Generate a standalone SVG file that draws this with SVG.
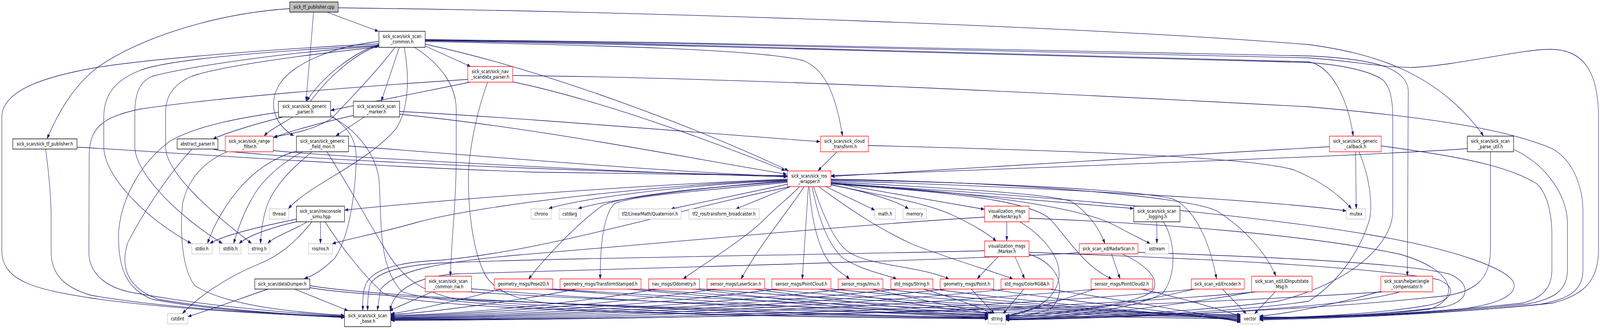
<svg xmlns="http://www.w3.org/2000/svg" width="5257" height="841" viewBox="0 0 5257 841" preserveAspectRatio="none">
<style>
svg{width:100vw;height:100vh}
.e{fill:none;stroke:#191970;stroke-width:1.3;marker-end:url(#a)}
.n rect{fill:#fff;stroke-width:1.4}
.blk rect{stroke:#000}
.red rect{stroke:#ff0000}
.gry rect{stroke:#bfbfbf}
.root rect{fill:#bfbfbf;stroke:#000}
text{font-family:"DejaVu Sans",sans-serif;font-size:13px;text-anchor:middle;fill:#000}
</style>
<defs>
<marker id="a" viewBox="0 0 11 8" refX="11" refY="4" markerWidth="11" markerHeight="8" markerUnits="userSpaceOnUse" orient="auto">
<path d="M0,0L11,4L0,8z" fill="#191970" stroke="#191970" stroke-width="0.8"/>
</marker>
</defs>
<rect width="5257" height="841" fill="#fff"/>
<g id="edges">
<path class="e" d="M1074,31 L1243,80"/>
<path class="e" d="M1030,31 C1024,100 1012,190 1006,258"/>
<path class="e" d="M952,22 C700,35 450,100 321,172 C240,220 190,290 155,354"/>
<path class="e" d="M1111,20 C2200,30 3600,70 4300,114 C4500,135 4720,180 4874,347"/>
<path class="e" d="M1245,112 C900,125 500,150 321,172 C150,195 6,230 6,300 L6,640 C6,720 120,740 300,762 C600,795 1000,806 1131,812"/>
<path class="e" d="M1245,116 C900,130 560,150 460,180 C380,205 341,240 341,300 L341,375 C341,450 480,560 628,622"/>
<path class="e" d="M1245,118 C950,132 620,170 500,195 C455,210 443,245 443,290 L443,375 C443,440 580,550 730,622"/>
<path class="e" d="M1245,120 C1000,140 720,170 630,195 C570,215 544,245 544,290 L544,375 C544,440 690,540 826,622"/>
<path class="e" d="M1245,114 C1160,135 1060,195 1008,258"/>
<path class="e" d="M1020,259 C1080,195 1170,135 1244,117"/>
<path class="e" d="M1245,106 C1100,118 960,160 915,220 C880,270 905,320 965,347"/>
<path class="e" d="M1312,121 L1253,258"/>
<path class="e" d="M1328,121 C1345,190 1345,280 1300,330 C1200,420 1020,470 948,533"/>
<path class="e" d="M1298,121 C1230,190 1130,270 1090,302 C1040,330 960,342 900,350"/>
<path class="e" d="M1362,121 C1450,165 1499,220 1499,280 L1499,400 C1499,520 1482,620 1480,705"/>
<path class="e" d="M1384,113 L1546,170"/>
<path class="e" d="M1397,113 C1800,180 2300,330 2590,436"/>
<path class="e" d="M1397,106 C1900,115 2500,125 2640,155 C2720,180 2750,260 2768,347"/>
<path class="e" d="M1397,103 C2500,115 3800,140 4300,158 C4380,170 4430,260 4446,347"/>
<path class="e" d="M1397,101 C2500,110 3900,130 4300,143 C4500,150 4620,170 4627,230 L4624,705"/>
<path class="e" d="M1397,102 C2500,112 3900,135 4300,148 C4450,156 4560,175 4651,172 C4800,165 5000,126 5093,126 C5200,126 5252,180 5252,300 L5252,640 C5252,720 5200,755 5100,775 C4800,800 4400,812 4139,815"/>
<path class="e" d="M1397,104 C2500,118 3900,150 4300,160 C4400,165 4500,180 4545,205 C4570,225 4576,260 4576,300 L4576,540 C4576,620 4450,720 4200,770 C3900,800 3500,812 3305,815"/>
<path class="e" d="M150,381 C160,440 168,500 168,560 L168,644 C168,700 210,735 300,755 C600,795 1000,805 1131,809"/>
<path class="e" d="M253,376 C600,392 1200,425 1750,440 L2586,449"/>
<path class="e" d="M930,299 C850,315 760,335 700,355"/>
<path class="e" d="M962,299 C930,315 890,330 868,347"/>
<path class="e" d="M915,287 C800,300 650,320 560,360 C470,410 400,500 390,590 C385,690 420,740 500,765 C700,795 1000,806 1131,811"/>
<path class="e" d="M1086,294 C1150,330 1175,360 1170,420 C1165,500 1150,600 1100,660 C1060,690 1030,705 1000,712"/>
<path class="e" d="M1086,298 C1150,320 1230,380 1245,456 C1255,560 1240,680 1320,745 C1500,800 2800,812 3247,814"/>
<path class="e" d="M1545,210 L1087,282"/>
<path class="e" d="M1537,203 C1200,220 700,250 459,279 C330,300 293,330 293,400 L292,644 C292,700 350,740 459,751 C700,785 1000,803 1131,808"/>
<path class="e" d="M1683,209 C2000,260 2400,380 2579,436"/>
<path class="e" d="M1684,193 C2500,200 3500,240 4300,273 C4700,300 4950,330 5100,380 C5170,410 5201,480 5201,540 L5201,690 C5201,745 5150,765 5060,778 C4700,805 4400,813 4139,818"/>
<path class="e" d="M1602,210 C1560,300 1539,400 1539,456 C1539,560 1560,660 1600,710 C1640,750 1700,765 1800,775 C2400,800 3000,810 3247,811"/>
<path class="e" d="M1161,295 C1050,315 950,335 899,352"/>
<path class="e" d="M1197,299 L1104,347"/>
<path class="e" d="M1313,292 C1800,330 2300,410 2584,445"/>
<path class="e" d="M1313,285 C1700,300 2300,340 2694,362"/>
<path class="e" d="M975,386 C930,395 860,420 800,470 C740,520 700,580 682,622"/>
<path class="e" d="M993,388 C920,420 860,460 826,510 C800,545 780,590 768,622"/>
<path class="e" d="M1025,388 C960,430 907,470 880,520 C865,550 858,590 856,622"/>
<path class="e" d="M1145,373 C1600,400 2200,440 2586,451"/>
<path class="e" d="M1074,388 C1150,480 1220,580 1260,630 C1320,710 1380,745 1500,765 C2000,800 2900,810 3247,813"/>
<path class="e" d="M746,388 C680,410 620,450 600,520 C590,600 600,690 640,730 C750,785 1000,800 1131,806"/>
<path class="e" d="M898,385 C1100,400 2000,440 2586,452"/>
<path class="e" d="M631,381 C560,440 480,530 420,620 C390,690 430,740 520,765 C750,795 1000,806 1131,810"/>
<path class="e" d="M700,381 C760,395 1500,430 2586,450"/>
<path class="e" d="M2750,388 L2688,436"/>
<path class="e" d="M2853,372 C3500,385 4100,400 4250,434 C4300,450 4380,480 4440,533"/>
<path class="e" d="M4454,388 L4456,533"/>
<path class="e" d="M4465,388 C4500,450 4510,520 4500,560 C4470,640 4400,720 4300,770 C4000,805 3500,812 3305,816"/>
<path class="e" d="M4538,373 C4750,395 4950,420 5050,470 C5090,500 5099,560 5099,600 L5099,690 C5099,740 5060,765 5000,775 C4700,800 4400,812 4139,816"/>
<path class="e" d="M4368,375 C3800,400 3200,430 2731,451"/>
<path class="e" d="M4973,382 C5080,420 5150,500 5150,570 L5150,690 C5150,745 5100,765 5020,777 C4700,802 4400,812 4139,814"/>
<path class="e" d="M4821,380 C4500,398 3500,425 2731,449"/>
<path class="e" d="M4897,388 L4897,640 C4897,710 4850,745 4750,756 C4300,795 3700,810 3305,817"/>
<path class="e" d="M2713,477 L2874,537"/>
<path class="e" d="M2728,472 C2850,490 2950,515 2985,534"/>
<path class="e" d="M2730,467 L3234,535"/>
<path class="e" d="M2728,472 C2900,500 3050,520 3130,550 C3200,575 3250,600 3273,616"/>
<path class="e" d="M2690,477 C2800,540 2900,590 3000,625 C3150,670 3270,695 3328,713"/>
<path class="e" d="M2673,477 C2700,540 2740,620 2790,645 C2860,680 3020,680 3118,713"/>
<path class="e" d="M2668,477 C2690,560 2720,625 2770,660 C2830,690 2900,700 2946,713"/>
<path class="e" d="M2659,477 C2665,560 2690,640 2730,675 C2755,695 2780,705 2791,713"/>
<path class="e" d="M2656,477 L2636,713"/>
<path class="e" d="M2642,477 C2600,530 2500,620 2435,713"/>
<path class="e" d="M2627,477 C2600,500 2550,530 2515,558 C2450,610 2320,670 2245,713"/>
<path class="e" d="M2598,477 L2418,534"/>
<path class="e" d="M2587,471 L2205,534"/>
<path class="e" d="M2587,466 C2300,488 2080,500 2020,520 C1985,545 1972,620 1972,713"/>
<path class="e" d="M2587,464 C2300,480 2050,500 1980,525 C1900,570 1800,650 1737,713"/>
<path class="e" d="M2587,461 C2200,475 1900,510 1803,533"/>
<path class="e" d="M2587,462 C2300,480 2000,510 1900,533"/>
<path class="e" d="M2587,458 C2200,470 1600,500 1133,537"/>
<path class="e" d="M2587,460 C2200,470 1600,520 1367,569 C1250,595 1150,610 1092,623"/>
<path class="e" d="M2598,477 C2200,540 1800,640 1450,665 C1300,670 1220,690 1200,730 C1190,755 1192,775 1192,793"/>
<path class="e" d="M2730,467 C3200,500 3600,525 3724,533"/>
<path class="e" d="M2730,465 C3100,480 3450,495 3520,515 C3570,540 3610,580 3630,622"/>
<path class="e" d="M2730,468 C3200,490 3550,530 3660,575 C3720,600 3760,615 3779,623"/>
<path class="e" d="M2730,470 C3100,490 3380,510 3450,560 C3510,610 3560,680 3653,713"/>
<path class="e" d="M2730,460 C3200,465 3750,485 3859,510 C3930,540 3975,620 3997,712"/>
<path class="e" d="M2730,458 C3300,465 3900,500 4000,540 C4100,590 4160,650 4192,705"/>
<path class="e" d="M2730,462 C3500,480 4200,515 4423,539"/>
<path class="e" d="M2730,470 C3500,500 4200,560 4500,600 C4800,640 4960,690 4974,724 C4985,760 4900,780 4800,790 C4500,808 4300,812 4139,814"/>
<path class="e" d="M975,560 C850,580 740,600 690,622"/>
<path class="e" d="M978,566 C900,580 820,600 786,622"/>
<path class="e" d="M1010,567 C960,590 900,605 880,622"/>
<path class="e" d="M1053,567 L1053,622"/>
<path class="e" d="M1025,567 C980,610 930,650 850,675 C740,710 650,760 600,801"/>
<path class="e" d="M1068,567 C1120,630 1190,700 1260,750 C1400,800 2800,812 3247,815"/>
<path class="e" d="M965,738 L1143,794"/>
<path class="e" d="M884,738 C800,760 700,790 618,809"/>
<path class="e" d="M1018,730 C1300,770 2800,805 3247,813"/>
<path class="e" d="M1018,735 C1300,780 3400,808 4076,815"/>
<path class="e" d="M1420,746 L1280,794"/>
<path class="e" d="M1549,738 C2000,770 2900,800 3247,812"/>
<path class="e" d="M1540,746 C2200,780 3500,805 4076,812"/>
<path class="e" d="M1650,738 C1500,770 1350,795 1285,802"/>
<path class="e" d="M1780,738 C2300,770 2900,800 3247,810"/>
<path class="e" d="M1806,738 C2500,775 3600,805 4076,810"/>
<path class="e" d="M1900,738 C1700,770 1400,800 1285,804"/>
<path class="e" d="M2050,738 C2500,770 3000,800 3247,808"/>
<path class="e" d="M2090,738 C2700,775 3700,805 4076,808"/>
<path class="e" d="M2165,738 C1900,775 1500,805 1285,806"/>
<path class="e" d="M2270,738 C2600,770 3000,798 3247,806"/>
<path class="e" d="M2292,738 C2900,775 3800,805 4076,806"/>
<path class="e" d="M2360,738 C2000,780 1500,806 1285,808"/>
<path class="e" d="M2470,738 C2800,775 3100,798 3247,804"/>
<path class="e" d="M2505,738 C3000,775 3800,803 4076,804"/>
<path class="e" d="M2560,738 C2100,785 1500,808 1285,810"/>
<path class="e" d="M2680,738 C2950,770 3150,795 3250,802"/>
<path class="e" d="M2722,738 C3200,775 3850,802 4076,816"/>
<path class="e" d="M2790,738 C2200,790 1500,810 1285,812"/>
<path class="e" d="M2860,738 C3050,770 3200,795 3256,802"/>
<path class="e" d="M2895,738 C3300,775 3900,805 4076,818"/>
<path class="e" d="M2960,738 C2300,795 1500,812 1285,813"/>
<path class="e" d="M3030,738 C3150,765 3230,790 3262,802"/>
<path class="e" d="M3060,738 C3400,775 3900,805 4076,820"/>
<path class="e" d="M3120,738 C2400,800 1500,813 1285,814"/>
<path class="e" d="M3190,738 L3267,802"/>
<path class="e" d="M3245,738 C3500,770 3900,800 4076,822"/>
<path class="e" d="M3320,738 C2500,805 1500,815 1285,815"/>
<path class="e" d="M3365,738 L3296,802"/>
<path class="e" d="M3440,738 C3700,770 3950,800 4076,824"/>
<path class="e" d="M3620,738 C2600,808 1600,816 1285,816"/>
<path class="e" d="M3600,738 C3480,770 3350,800 3304,808"/>
<path class="e" d="M3745,738 C3900,765 4000,790 4076,808"/>
<path class="e" d="M3940,738 C3000,810 1600,817 1285,817"/>
<path class="e" d="M3930,738 C3700,780 3450,808 3304,812"/>
<path class="e" d="M4015,738 L4095,802"/>
<path class="e" d="M4130,746 C3200,812 1600,818 1285,818"/>
<path class="e" d="M4120,746 C3800,790 3500,812 3304,816"/>
<path class="e" d="M4190,746 L4122,802"/>
<path class="e" d="M4545,746 C3500,800 1800,819 1285,819"/>
<path class="e" d="M4540,744 C4400,775 4250,800 4139,808"/>
<path class="e" d="M4600,746 C4400,792 3700,813 3304,818"/>
<path class="e" d="M3280,656 L3211,712"/>
<path class="e" d="M3335,656 L3366,712"/>
<path class="e" d="M3235,641 C2800,650 1800,660 1450,672 C1300,680 1230,700 1215,730 C1208,755 1208,775 1208,793"/>
<path class="e" d="M3381,650 C3500,680 3500,760 3450,790 C3400,805 3340,808 3304,810"/>
<path class="e" d="M3381,645 C3900,660 4500,680 4727,715 C4790,735 4780,770 4680,782 C4500,805 4250,812 4139,812"/>
<path class="e" d="M3308,567 L3308,615"/>
<path class="e" d="M3235,555 C2800,575 2200,620 1700,652 C1450,670 1300,690 1250,740 L1240,793"/>
<path class="e" d="M3351,567 C3420,600 3480,650 3480,700 C3480,760 3400,800 3305,807"/>
<path class="e" d="M3381,558 C3800,570 4300,600 4600,650 C4780,690 4800,760 4700,790 C4500,810 4250,812 4139,810"/>
<path class="e" d="M3652,649 L3680,712"/>
<path class="e" d="M3546,646 C3200,664 2000,688 1500,700 C1350,708 1290,750 1282,793"/>
<path class="e" d="M3687,649 C3760,675 3810,710 3790,740 C3760,775 3500,800 3304,808"/>
<path class="e" d="M3739,645 C4100,655 4600,670 4760,700 C4830,720 4840,770 4740,785 C4500,808 4250,812 4139,811"/>
<path class="e" d="M3801,567 L3801,622"/>
<path class="e" d="M3822,567 C3860,610 3870,700 3820,750 C3700,800 3450,810 3305,813"/>
</g>
<g id="n0" class="n root"><rect x="952" y="5" width="159" height="26"/><text x="1031.5" y="22">sick_tf_publisher.cpp</text></g>
<g id="n1" class="n blk"><rect x="1245" y="80" width="152" height="41"/><text x="1321" y="97">sick_scan/sick_scan</text><text x="1321" y="111">_common.h</text></g>
<g id="n2" class="n blk"><rect x="42" y="355" width="211" height="26"/><text x="147.5" y="372">sick_scan/sick_tf_publisher.h</text></g>
<g id="n3" class="n blk"><rect x="915" y="259" width="171" height="40"/><text x="1000.5" y="276">sick_scan/sick_generic</text><text x="1000.5" y="290">_parser.h</text></g>
<g id="n4" class="n blk"><rect x="4821" y="348" width="152" height="40"/><text x="4897" y="365">sick_scan/sick_scan</text><text x="4897" y="379">_parse_util.h</text></g>
<g id="n5" class="n blk"><rect x="1132" y="794" width="152" height="41"/><text x="1208" y="811">sick_scan/sick_scan</text><text x="1208" y="825">_base.h</text></g>
<g id="n6" class="n red"><rect x="1537" y="170" width="147" height="40"/><text x="1610.5" y="187">sick_scan/sick_nav</text><text x="1610.5" y="201">_scandata_parser.h</text></g>
<g id="n7" class="n blk"><rect x="1161" y="259" width="152" height="40"/><text x="1237" y="276">sick_scan/sick_scan</text><text x="1237" y="290">_marker.h</text></g>
<g id="n8" class="n blk"><rect x="974" y="348" width="171" height="40"/><text x="1059.5" y="365">sick_scan/sick_generic</text><text x="1059.5" y="379">_field_mon.h</text></g>
<g id="n9" class="n red"><rect x="740" y="348" width="158" height="40"/><text x="819" y="365">sick_scan/sick_range</text><text x="819" y="379">_filter.h</text></g>
<g id="n10" class="n blk"><rect x="582" y="355" width="134" height="26"/><text x="649" y="372">abstract_parser.h</text></g>
<g id="n11" class="n red"><rect x="2696" y="348" width="157" height="40"/><text x="2774.5" y="365">sick_scan/sick_cloud</text><text x="2774.5" y="379">_transform.h</text></g>
<g id="n12" class="n red"><rect x="4368" y="348" width="170" height="40"/><text x="4453" y="365">sick_scan/sick_generic</text><text x="4453" y="379">_callback.h</text></g>
<g id="n13" class="n red"><rect x="2587" y="437" width="143" height="40"/><text x="2658.5" y="454">sick_scan/sick_ros</text><text x="2658.5" y="468">_wrapper.h</text></g>
<g id="n14" class="n gry"><rect x="885" y="534" width="64" height="26"/><text x="917" y="551">thread</text></g>
<g id="n15" class="n blk"><rect x="974" y="527" width="158" height="40"/><text x="1053" y="544">sick_scan/rosconsole</text><text x="1053" y="558">_simu.hpp</text></g>
<g id="n16" class="n gry"><rect x="1745" y="534" width="66" height="26"/><text x="1778" y="551">chrono</text></g>
<g id="n17" class="n gry"><rect x="1837" y="534" width="70" height="26"/><text x="1872" y="551">cstdarg</text></g>
<g id="n18" class="n gry"><rect x="2033" y="534" width="205" height="26"/><text x="2135.5" y="551">tf2/LinearMath/Quaternion.h</text></g>
<g id="n19" class="n gry"><rect x="2264" y="534" width="230" height="26"/><text x="2379" y="551">tf2_ros/transform_broadcaster.h</text></g>
<g id="n20" class="n gry"><rect x="2874" y="534" width="68" height="26"/><text x="2908" y="551">math.h</text></g>
<g id="n21" class="n gry"><rect x="2967" y="534" width="77" height="26"/><text x="3005.5" y="551">memory</text></g>
<g id="n22" class="n red"><rect x="3235" y="527" width="146" height="40"/><text x="3308" y="544">visualization_msgs</text><text x="3308" y="558">/MarkerArray.h</text></g>
<g id="n23" class="n blk"><rect x="3725" y="527" width="152" height="40"/><text x="3801" y="544">sick_scan/sick_scan</text><text x="3801" y="558">_logging.h</text></g>
<g id="n24" class="n gry"><rect x="4424" y="534" width="63" height="26"/><text x="4455.5" y="551">mutex</text></g>
<g id="n25" class="n gry"><rect x="630" y="623" width="67" height="26"/><text x="663.5" y="640">stdio.h</text></g>
<g id="n26" class="n gry"><rect x="722" y="623" width="70" height="26"/><text x="757" y="640">stdlib.h</text></g>
<g id="n27" class="n gry"><rect x="816" y="623" width="71" height="26"/><text x="851.5" y="640">string.h</text></g>
<g id="n28" class="n gry"><rect x="1014" y="623" width="78" height="26"/><text x="1053" y="640">ros/ros.h</text></g>
<g id="n29" class="n red"><rect x="3235" y="616" width="146" height="40"/><text x="3308" y="633">visualization_msgs</text><text x="3308" y="647">/Marker.h</text></g>
<g id="n30" class="n red"><rect x="3546" y="623" width="193" height="26"/><text x="3642.5" y="640">sick_scan_xd/RadarScan.h</text></g>
<g id="n31" class="n gry"><rect x="3763" y="623" width="76" height="26"/><text x="3801" y="640">sstream</text></g>
<g id="n32" class="n blk"><rect x="837" y="713" width="181" height="26"/><text x="927.5" y="730">sick_scan/dataDumper.h</text></g>
<g id="n33" class="n red"><rect x="1397" y="706" width="152" height="40"/><text x="1473" y="723">sick_scan/sick_scan</text><text x="1473" y="737">_common_nw.h</text></g>
<g id="n34" class="n red"><rect x="1624" y="713" width="192" height="26"/><text x="1720" y="730">geometry_msgs/Pose2D.h</text></g>
<g id="n35" class="n red"><rect x="1840" y="713" width="266" height="26"/><text x="1973" y="730">geometry_msgs/TransformStamped.h</text></g>
<g id="n36" class="n red"><rect x="2131" y="713" width="167" height="26"/><text x="2214.5" y="730">nav_msgs/Odometry.h</text></g>
<g id="n37" class="n red"><rect x="2323" y="713" width="189" height="26"/><text x="2417.5" y="730">sensor_msgs/LaserScan.h</text></g>
<g id="n38" class="n red"><rect x="2536" y="713" width="194" height="26"/><text x="2633" y="730">sensor_msgs/PointCloud.h</text></g>
<g id="n39" class="n red"><rect x="2754" y="713" width="147" height="26"/><text x="2827.5" y="730">sensor_msgs/Imu.h</text></g>
<g id="n40" class="n red"><rect x="2927" y="713" width="138" height="26"/><text x="2996" y="730">std_msgs/String.h</text></g>
<g id="n41" class="n red"><rect x="3089" y="713" width="176" height="26"/><text x="3177" y="730">geometry_msgs/Point.h</text></g>
<g id="n42" class="n red"><rect x="3289" y="713" width="171" height="26"/><text x="3374.5" y="730">std_msgs/ColorRGBA.h</text></g>
<g id="n43" class="n red"><rect x="3585" y="713" width="202" height="26"/><text x="3686" y="730">sensor_msgs/PointCloud2.h</text></g>
<g id="n44" class="n red"><rect x="3914" y="713" width="174" height="26"/><text x="4001" y="730">sick_scan_xd/Encoder.h</text></g>
<g id="n45" class="n red"><rect x="4112" y="706" width="199" height="40"/><text x="4211.5" y="723">sick_scan_xd/LIDinputstate</text><text x="4211.5" y="737">Msg.h</text></g>
<g id="n46" class="n red"><rect x="4537" y="706" width="170" height="40"/><text x="4622" y="723">sick_scan/helper/angle</text><text x="4622" y="737">_compensator.h</text></g>
<g id="n47" class="n gry"><rect x="550" y="802" width="67" height="26"/><text x="583.5" y="819">cstdint</text></g>
<g id="n48" class="n gry"><rect x="3247" y="802" width="57" height="26"/><text x="3275.5" y="819">string</text></g>
<g id="n49" class="n gry"><rect x="4076" y="802" width="62" height="26"/><text x="4107" y="819">vector</text></g>
</svg>
